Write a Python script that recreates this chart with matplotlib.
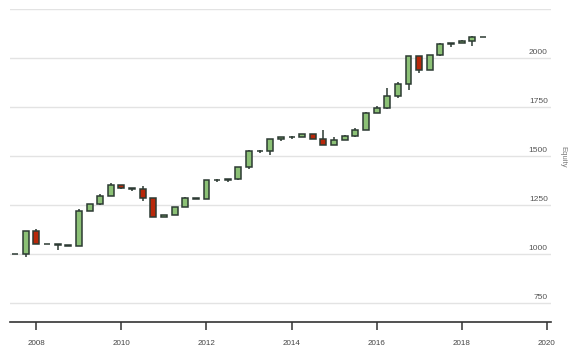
import numpy as np
import matplotlib
matplotlib.use('Agg')
import matplotlib.pyplot as plt
import matplotlib.transforms as mtransforms

plt.rcParams['font.family'] = ['Liberation Sans', 'DejaVu Sans']

# quarterly candles, mid 2007 .. mid 2018
quarters = np.arange(2007.5, 2018.51, 0.25)

opens = [1000, 1000, 1117, 1051, 1050, 1046, 1041, 1222, 1255, 1296,
         1352, 1337, 1335, 1286, 1189, 1199, 1240, 1286, 1282, 1377,
         1377, 1381, 1444, 1526, 1527, 1590, 1597, 1598, 1612, 1587,
         1556, 1582, 1602, 1633, 1719, 1745, 1806, 1867, 2010, 1942,
         2015, 2071, 2076, 2091, 2107]
highs = [1000, 1118, 1129, 1052, 1051, 1046, 1231, 1255, 1308, 1364,
         1352, 1338, 1348, 1286, 1199, 1240, 1292, 1289, 1377, 1384,
         1384, 1444, 1532, 1532, 1587, 1597, 1603, 1612, 1612, 1634,
         1597, 1607, 1643, 1725, 1755, 1848, 1878, 2010, 2010, 2015,
         2076, 2076, 2096, 2115, 2109]
lows = [1000, 983, 1051, 1050, 1023, 1041, 1041, 1222, 1250, 1296,
        1330, 1320, 1273, 1189, 1189, 1199, 1240, 1281, 1281, 1370,
        1370, 1376, 1434, 1518, 1508, 1580, 1590, 1597, 1587, 1556,
        1556, 1582, 1597, 1633, 1719, 1740, 1796, 1840, 1927, 1942,
        2010, 2059, 2076, 2064, 2107]
closes = [1000, 1117, 1051, 1050, 1046, 1041, 1221, 1255, 1296, 1352,
          1337, 1335, 1286, 1189, 1199, 1240, 1286, 1282, 1377, 1378,
          1383, 1444, 1526, 1527, 1587, 1597, 1598, 1612, 1587, 1556,
          1582, 1602, 1633, 1719, 1745, 1806, 1867, 2010, 1942, 2015,
          2071, 2076, 2091, 2107, 2108]

y_ticks = [750, 1000, 1250, 1500, 1750, 2000]
grid_lines = [750, 1000, 1250, 1500, 1750, 2000, 2250]
x_ticks = [2008, 2010, 2012, 2014, 2016, 2018, 2020]

up_col = '#8cc176'
down_col = '#b8280a'
edge_col = '#2c3a33'

fig = plt.figure(figsize=(5.8, 3.6), dpi=100)
ax = fig.add_axes([10 / 580, 38 / 360, 541 / 580, 313 / 360])

o = np.array(opens, dtype=float)
c = np.array(closes, dtype=float)
colors = [up_col if cc >= oo else down_col for oo, cc in zip(o, c)]

for g in grid_lines:
    ax.axhline(g, color='#e3e3e3', lw=1, zorder=0)

ax.vlines(quarters, lows, highs, color=edge_col, lw=1.1, zorder=2)
ax.bar(quarters, np.maximum(np.abs(c - o), 0.5), bottom=np.minimum(o, c),
       width=0.14, color=colors, edgecolor=edge_col, linewidth=1.1, zorder=3)

ax.set_xlim(2007.38, 2020.1)
ax.set_ylim(653, 2252)

for s in ['top', 'left', 'right']:
    ax.spines[s].set_visible(False)
ax.spines['bottom'].set_color('#333333')
ax.spines['bottom'].set_linewidth(1.2)

ax.set_xticks(x_ticks)
ax.set_xticklabels([str(t) for t in x_ticks])
ax.tick_params(axis='x', length=6, width=1.1, color='#333333', pad=7,
               labelsize=5.8, labelcolor='#444444')
ax.set_yticks([])

trans = mtransforms.blended_transform_factory(ax.transAxes, ax.transData)
for t in y_ticks:
    ax.text(0.994, t + 28, str(t), transform=trans, ha='right', va='center',
            fontsize=6, color='#555555')

fig.text(563 / 580, 1 - 157 / 360, 'Equity', rotation=270, ha='center',
         va='center', fontsize=5.5, color='#777777')

fig.savefig('out.png', dpi=100)
